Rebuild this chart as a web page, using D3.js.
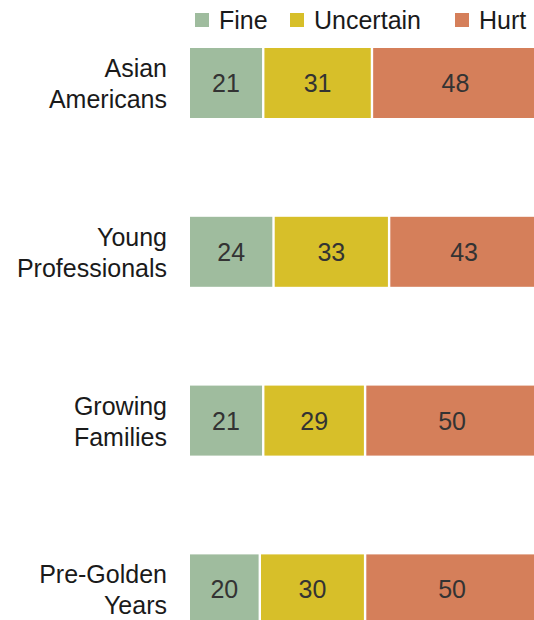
<!DOCTYPE html>
<html>
<head>
<meta charset="utf-8">
<script src="https://cdn.jsdelivr.net/npm/d3@7"></script>
<style>
  html, body { margin: 0; padding: 0; background: #fff; overflow: hidden; }
  svg { display: block; }
  text { font-family: "Liberation Sans", Arial, sans-serif; }
</style>
</head>
<body>
<div id="chart"></div>
<script>
// Survey groups (each label split over two lines)
const categories = ["Asian Americans", "Young Professionals", "Growing Families", "Pre-Golden Years"];
const categoryLines = [["Asian", "Americans"], ["Young", "Professionals"], ["Growing", "Families"], ["Pre-Golden", "Years"]];

// Response shares, percent
const seriesNames = ["Fine", "Uncertain", "Hurt"];
const fineValues = [21, 24, 21, 20];
const uncertainValues = [31, 33, 29, 30];
const hurtValues = [48, 43, 50, 50];
const seriesColors = ["#9fbc9e", "#d7bf29", "#d57f5a"];

const width = 534, height = 620;
const barLeft = 190, barSpan = 343, gap = 2.4;

const svg = d3.select("#chart").append("svg")
  .attr("width", width).attr("height", height);

const x = d3.scaleLinear().domain([0, 100]).range([0, barSpan]);
const y = d3.scaleBand().domain(categories)
  .range([48, 624.4]).paddingInner(0.5853).paddingOuter(0);
const color = d3.scaleOrdinal().domain(seriesNames).range(seriesColors);

const rows = categories.map((c, i) => ({
  category: c,
  lines: categoryLines[i],
  values: [fineValues[i], uncertainValues[i], hurtValues[i]]
}));

// Legend
const legendItems = [
  { name: "Fine", x: 195 },
  { name: "Uncertain", x: 290 },
  { name: "Hurt", x: 455 }
];
const legend = svg.append("g").attr("class", "legend");
const li = legend.selectAll("g").data(legendItems).join("g")
  .attr("transform", d => `translate(${d.x},13)`);
li.append("rect").attr("width", 14).attr("height", 14)
  .attr("fill", d => color(d.name));
li.append("text").attr("x", 24).attr("y", 16)
  .attr("font-size", 25).attr("fill", "#1a1a1a")
  .text(d => d.name);

// Category labels
const labels = svg.append("g").attr("class", "cat-labels");
rows.forEach(r => {
  const cy = y(r.category) + y.bandwidth() / 2;
  const t = labels.append("text")
    .attr("text-anchor", "end").attr("font-size", 25).attr("fill", "#1a1a1a");
  r.lines.forEach((ln, k) => {
    t.append("tspan").attr("x", 167).attr("y", cy - 6 + k * 31).text(ln);
  });
});

// Stacked bars
const bars = svg.append("g").attr("class", "bars");
rows.forEach(r => {
  let cum = 0;
  const segs = r.values.map((v, i) => {
    const s = { name: seriesNames[i], value: v, x0: barLeft + x(cum) + i * gap, w: x(v) };
    cum += v;
    return s;
  });
  const g = bars.append("g").attr("transform", `translate(0,${y(r.category)})`);
  g.selectAll("rect").data(segs).join("rect")
    .attr("x", d => d.x0).attr("y", 0)
    .attr("width", d => d.w).attr("height", y.bandwidth())
    .attr("fill", d => color(d.name));
  g.selectAll("text").data(segs).join("text")
    .attr("x", d => d.x0 + d.w / 2)
    .attr("y", y.bandwidth() / 2 + 9)
    .attr("text-anchor", "middle")
    .attr("font-size", 25).attr("fill", "#333")
    .text(d => d.value);
});
</script>
</body>
</html>
